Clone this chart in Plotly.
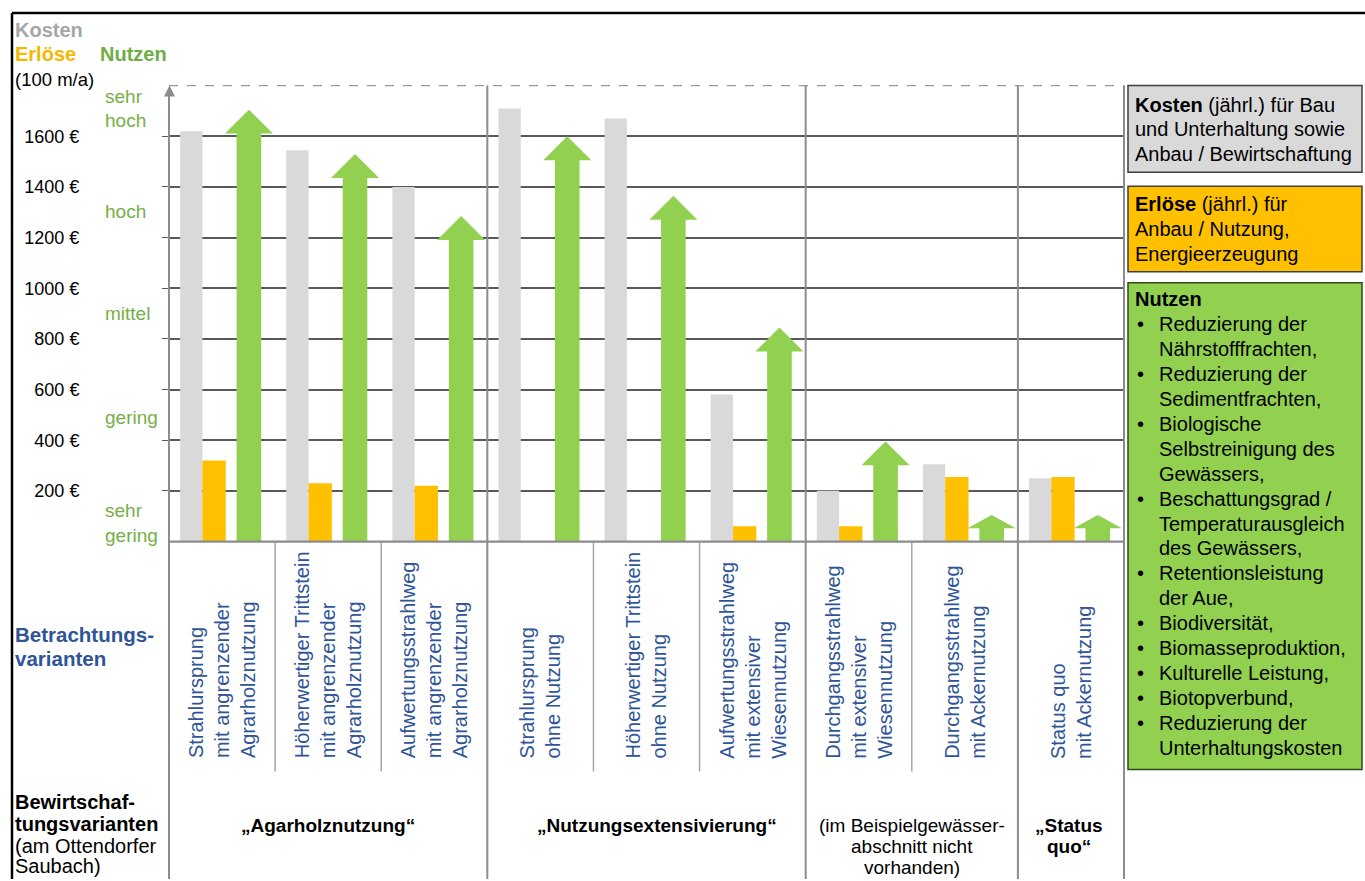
import plotly.graph_objects as go

# ---------------------------------------------------------------- data
categories = [
    ["Strahlursprung", "mit angrenzender", "Agrarholznutzung"],
    ["Höherwertiger Trittstein", "mit angrenzender", "Agrarholznutzung"],
    ["Aufwertungsstrahlweg", "mit angrenzender", "Agrarholznutzung"],
    ["Strahlursprung", "ohne Nutzung"],
    ["Höherwertiger Trittstein", "ohne Nutzung"],
    ["Aufwertungsstrahlweg", "mit extensiver", "Wiesennutzung"],
    ["Durchgangsstrahlweg", "mit extensiver", "Wiesennutzung"],
    ["Durchgangsstrahlweg", "mit Ackernutzung"],
    ["Status quo", "mit Ackernutzung"],
]
kosten = [1620, 1545, 1400, 1710, 1670, 580, 200, 305, 250]      # € per 100 m and year
erloese = [320, 230, 220, None, None, 60, 60, 255, 255]           # € per 100 m and year
nutzen = [1705, 1530, 1285, 1600, 1365, 845, 395, 105, 105]       # position on the Nutzen scale

y_ticks = [200, 400, 600, 800, 1000, 1200, 1400, 1600]
y_ticktext = [f"{v} €" for v in y_ticks]
nutzen_levels = [75, 490, 900, 1305, 1710]
nutzen_level_text = ["sehr<br>gering", "gering", "mittel", "hoch", "sehr<br>hoch"]

group_bounds = [3, 6, 8]          # category index where a new Bewirtschaftungsvariante starts
sub_bounds = [1, 2, 4, 5, 7]

groups = [
    (1.5, ["<b>„Agarholznutzung“</b>"]),
    (4.6, ["<b>„Nutzungsextensivierung“</b>"]),
    (7.0, ["(im Beispielgewässer-", "abschnitt nicht", "vorhanden)"]),
    (8.48, ["<b>„Status</b>", "<b>quo“</b>"]),
]

kosten_box = ["<b>Kosten</b> (jährl.) für Bau", "und Unterhaltung sowie", "Anbau / Bewirtschaftung"]
erloese_box = ["<b>Erlöse</b> (jährl.) für", "Anbau / Nutzung,", "Energieerzeugung"]
nutzen_items = [
    ["Reduzierung der", "Nährstofffrachten,"],
    ["Reduzierung der", "Sedimentfrachten,"],
    ["Biologische", "Selbstreinigung des", "Gewässers,"],
    ["Beschattungsgrad /", "Temperaturausgleich", "des Gewässers,"],
    ["Retentionsleistung", "der Aue,"],
    ["Biodiversität,"],
    ["Biomasseproduktion,"],
    ["Kulturelle Leistung,"],
    ["Biotopverbund,"],
    ["Reduzierung der", "Unterhaltungskosten"],
]

# ---------------------------------------------------------------- geometry
W, H = 1365, 881
X0, X1 = 169, 1124          # plot area, pixels
YTOP, YBASE = 86, 544
YMAX = 1800
NCAT = len(kosten)
PX_X = (X1 - X0) / NCAT
PX_Y = (YBASE - YTOP) / YMAX

FONT = "Arial, Liberation Sans, sans-serif"
BLUE = "#2f5597"
GREEN_TXT = "#74b046"
GRAY_BAR = "#d9d9d9"
ORANGE = "#ffc000"
GREEN = "#92d050"
LINE = "#8c8c8c"


def px(x):
    return x / W


def py(y):
    return 1 - y / H


def cat_px(i):
    return X0 + i * PX_X


# bar / arrow placement within a category (data units)
OFF_K, W_K = -0.29, 0.21
OFF_E, W_E = -0.075, 0.22
OFF_N = 0.253
SHAFT = 12.3 / PX_X
HEAD = 24 / PX_X

fig = go.Figure()

fig.add_trace(go.Bar(
    x=[i + 0.5 + OFF_K for i in range(NCAT)], y=kosten, width=W_K,
    marker=dict(color=GRAY_BAR, line=dict(width=0)), name="Kosten",
))
fig.add_trace(go.Bar(
    x=[i + 0.5 + OFF_E for i in range(NCAT)], y=erloese, width=W_E,
    marker=dict(color=ORANGE, line=dict(width=0)), name="Erlöse",
))

# Nutzen as block arrows: head length is half the smaller of head width / arrow height
ax, ay = [], []
for i, v in enumerate(nutzen):
    xc = i + 0.5 + OFF_N
    head_px = 0.5 * min(2 * HEAD * PX_X, v * PX_Y)
    hb = v - head_px / PX_Y
    ax += [xc - SHAFT, xc - SHAFT, xc - HEAD, xc, xc + HEAD, xc + SHAFT, xc + SHAFT, xc - SHAFT, None]
    ay += [0, hb, hb, v, hb, hb, 0, 0, None]
fig.add_trace(go.Scatter(
    x=ax, y=ay, mode="lines", fill="toself", fillcolor=GREEN,
    line=dict(width=0, color=GREEN), name="Nutzen", connectgaps=False,
))

# the ordinal Nutzen scale lives on a second y axis; this trace anchors it
fig.add_trace(go.Scatter(
    x=[0] * len(nutzen_levels), y=nutzen_levels, yaxis="y2", mode="markers",
    marker=dict(size=1, opacity=0), name="Nutzen-Skala",
))

shapes = []


def hline(x0, x1, y, color, width, dash="solid", layer="above"):
    shapes.append(dict(type="line", xref="paper", yref="paper", x0=px(x0), x1=px(x1),
                       y0=py(y), y1=py(y), line=dict(color=color, width=width, dash=dash), layer=layer))


def vline(x, y0, y1, color, width, layer="above"):
    shapes.append(dict(type="line", xref="paper", yref="paper", x0=px(x), x1=px(x),
                       y0=py(y0), y1=py(y1), line=dict(color=color, width=width), layer=layer))


def rect(x0, y0, x1, y1, fill, border):
    shapes.append(dict(type="rect", xref="paper", yref="paper", x0=px(x0), x1=px(x1),
                       y0=py(y1), y1=py(y0), fillcolor=fill, line=dict(color=border, width=1.5),
                       layer="below"))


# outer frame (top and left edges)
hline(12, W + 2, 13, "#000000", 2.5)
vline(12, 13, H + 2, "#000000", 2.5)

# top dashed limit, axis line, dividers, baseline
hline(X0, X1, YTOP, "#9a9a9a", 1.2, dash="dash")
vline(X0, YTOP + 4, H + 2, LINE, 2)
for b in group_bounds:
    vline(cat_px(b), YTOP, H + 2, LINE, 2)
vline(X1, YTOP, H + 2, LINE, 2)
for b in sub_bounds:
    vline(cat_px(b), YBASE, 775, "#a6a6a6", 1.5)
hline(X0, X1, YBASE, LINE, 2.2)

# arrow tip of the y axis
shapes.append(dict(type="path", xref="paper", yref="paper",
                   path=f"M {px(X0 - 5)} {py(YTOP + 11)} L {px(X0 + 0.5)} {py(YTOP)} "
                        f"L {px(X0 + 6)} {py(YTOP + 11)} Z",
                   fillcolor="#8c8c8c", line=dict(width=0)))

# legend boxes
BX0, BX1 = 1128, 1362
rect(BX0, 86, BX1, 173, GRAY_BAR, "#3f3f3f")
rect(BX0, 187, BX1, 273, ORANGE, "#3f3f3f")
rect(BX0, 284, BX1, 773, GREEN, "#2f4a1a")

annotations = []


def text(x, y, s, size=20, color="#000000", xanchor="left", yanchor="middle", align="left"):
    annotations.append(dict(xref="paper", yref="paper", x=px(x), y=py(y), text=s, showarrow=False,
                            xanchor=xanchor, yanchor=yanchor, align=align,
                            font=dict(family=FONT, size=size, color=color)))


# header of the value axis
text(13, 30, "<b>Kosten</b>", 20, "#a6a6a6")
text(13, 54, "<b>Erlöse</b>", 20, "#f4b800")
text(98, 54, "<b>Nutzen</b>", 20, "#70ad47")
text(13, 80, "(100 m/a)", 18.5)

# row titles
text(13, 637, "<b>Betrachtungs-</b>", 20.5, BLUE)
text(13, 662, "<b>varianten</b>", 20.5, BLUE)
text(13, 806, "<b>Bewirtschaf-</b>", 20)
text(13, 828, "<b>tungsvarianten</b>", 20)
text(13, 850, "(am Ottendorfer", 20)
text(13, 870, "Saubach)", 20)

# rotated category labels, reading upward from a common baseline
for i, lines in enumerate(categories):
    annotations.append(dict(xref="x", yref="paper", x=i + 0.5, y=py(764), text="<br>".join(lines),
                            textangle=-90, showarrow=False, xanchor="center", yanchor="bottom",
                            align="left", font=dict(family=FONT, size=20, color=BLUE)))

# Bewirtschaftungsvarianten
for xc, lines in groups:
    for k, line in enumerate(lines):
        annotations.append(dict(xref="x", yref="paper", x=xc, y=py(829 + k * 21), text=line,
                                showarrow=False, xanchor="center", yanchor="middle",
                                font=dict(family=FONT, size=19, color="#000000")))

# legend box texts
for k, line in enumerate(kosten_box):
    text(1133, 105 + k * 25, line, 20)
for k, line in enumerate(erloese_box):
    text(1133, 205 + k * 25, line, 20)

LS = 25.1
text(1133, 300, "<b>Nutzen</b>", 20)
row = 1
for item in nutzen_items:
    text(1135, 300 + row * LS, "•", 20)
    for line in item:
        text(1157, 300 + row * LS, line, 20)
        row += 1

fig.update_layout(
    width=W, height=H, autosize=False,
    margin=dict(l=0, r=0, t=0, b=0, pad=0),
    paper_bgcolor="white", plot_bgcolor="white",
    barmode="overlay", showlegend=False, hovermode=False,
    shapes=shapes, annotations=annotations,
    font=dict(family=FONT),
    xaxis=dict(domain=[px(X0), px(X1)], range=[0, NCAT], showticklabels=False,
               showgrid=False, zeroline=False, showline=False, fixedrange=True),
    yaxis=dict(domain=[py(YBASE), py(YTOP)], range=[0, YMAX], tickvals=y_ticks,
               ticktext=y_ticktext, showgrid=True, gridcolor="#595959", gridwidth=1.5,
               ticks="outside", ticklen=6, tickcolor="#595959", tickwidth=1.2,
               zeroline=False, showline=False, ticklabelstandoff=79,
               tickfont=dict(family=FONT, size=18, color="#000000"), fixedrange=True),
    yaxis2=dict(overlaying="y", anchor="free", position=px(104), side="right",
                range=[0, YMAX], tickvals=nutzen_levels, ticktext=nutzen_level_text,
                showgrid=False, zeroline=False, showline=False, ticks="",
                tickfont=dict(family=FONT, size=19, color=GREEN_TXT), fixedrange=True),
)

fig.write_html("out.html")
